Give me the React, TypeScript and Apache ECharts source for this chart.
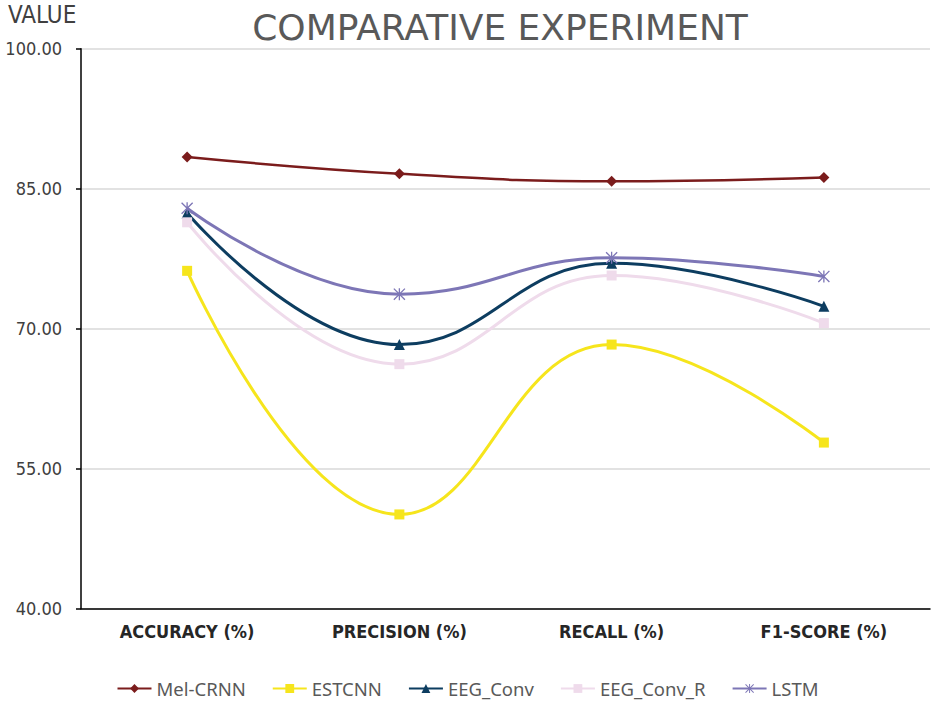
import React, { useEffect, useRef } from "react";
import * as echarts from "echarts";

const categories = ["ACCURACY (%)", "PRECISION (%)", "RECALL (%)", "F1-SCORE (%)"];
const melCrnn = [88.4, 86.6, 85.8, 86.2];
const estcnn = [76.2, 50.1, 68.3, 57.8];
const eegConv = [82.4, 68.3, 77.0, 72.4];
const eegConvR = [81.4, 66.2, 75.7, 70.6];
const lstm = [82.9, 73.7, 77.6, 75.6];
const yTicks = { min: 40, max: 100, interval: 15 };

const asterisk =
  "path://M-0.6,-5.5 L0.6,-5.5 L0.6,5.5 L-0.6,5.5 Z " +
  "M-5.5,-4.65 L-4.65,-5.5 L5.5,4.65 L4.65,5.5 Z " +
  "M-5.5,4.65 L4.65,-5.5 L5.5,-4.65 L-4.65,5.5 Z";

const FONT = "'Liberation Sans Narrow', 'DejaVu Sans Condensed', 'Noto Sans', sans-serif";

export default function App() {
  const ref = useRef<HTMLDivElement>(null);
  useEffect(() => {
    if (!ref.current) return;
    const chart = echarts.init(ref.current, undefined, { renderer: "svg" });
    const mk = (name: string, data: number[], color: string, symbol: string, size: number, width: number) => ({
      name,
      type: "line",
      data,
      smooth: 0.45,
      symbol,
      symbolSize: size,
      lineStyle: { color, width },
      itemStyle: { color },
      z: 3,
    });
    chart.setOption({
      animation: false,
      backgroundColor: "#ffffff",
      title: {
        text: "COMPARATIVE EXPERIMENT",
        left: 495,
        textAlign: "center",
        top: 4,
        textStyle: { fontFamily: "'DejaVu Sans', 'Noto Sans', sans-serif", fontSize: 36, fontWeight: "normal", color: "#595959" },
      },
      graphic: [
        {
          type: "text",
          left: 8,
          top: 3,
          style: { text: "VALUE", fontFamily: FONT, fontSize: 24, fill: "#404040" },
        },
      ],
      grid: { left: 81, right: 5, top: 48.7, bottom: 95.3, containLabel: false },
      legend: {
        bottom: 1,
        left: "center",
        itemWidth: 34,
        itemHeight: 11,
        itemGap: 26,
        textStyle: { fontFamily: "'Noto Sans', sans-serif", fontSize: 18.5, color: "#595959" },
        data: ["Mel-CRNN", "ESTCNN", "EEG_Conv", "EEG_Conv_R", "LSTM"],
      },
      xAxis: {
        type: "category",
        data: categories,
        boundaryGap: true,
        axisLine: { lineStyle: { color: "#000000", width: 1.5 } },
        axisTick: { show: false },
        axisLabel: { fontFamily: FONT, fontWeight: "bold", fontSize: 18, color: "#262626", margin: 14 },
      },
      yAxis: {
        type: "value",
        min: yTicks.min,
        max: yTicks.max,
        interval: yTicks.interval,
        axisLine: { show: true, lineStyle: { color: "#000000", width: 1.5 } },
        axisTick: { show: true, length: 5, lineStyle: { color: "#000000", width: 1.5 } },
        splitLine: { lineStyle: { color: "#d9d9d9", width: 1.5 } },
        axisLabel: {
          fontFamily: FONT,
          fontSize: 18,
          color: "#404040",
          margin: 19,
          formatter: (v: number) => v.toFixed(2),
        },
      },
      series: [
        mk("Mel-CRNN", melCrnn, "#7b1c1c", "diamond", 11, 2.5),
        mk("ESTCNN", estcnn, "#f6e51c", "rect", 10, 3),
        mk("EEG_Conv", eegConv, "#0d3d60", "triangle", 11, 3),
        mk("EEG_Conv_R", eegConvR, "#efdbeb", "rect", 10, 3),
        mk("LSTM", lstm, "#7d76b6", asterisk, 12, 3),
      ],
    });
    return () => chart.dispose();
  }, []);
  return <div ref={ref} style={{ position: "absolute", left: 0, top: 0, width: 935, height: 704 }} />;
}
